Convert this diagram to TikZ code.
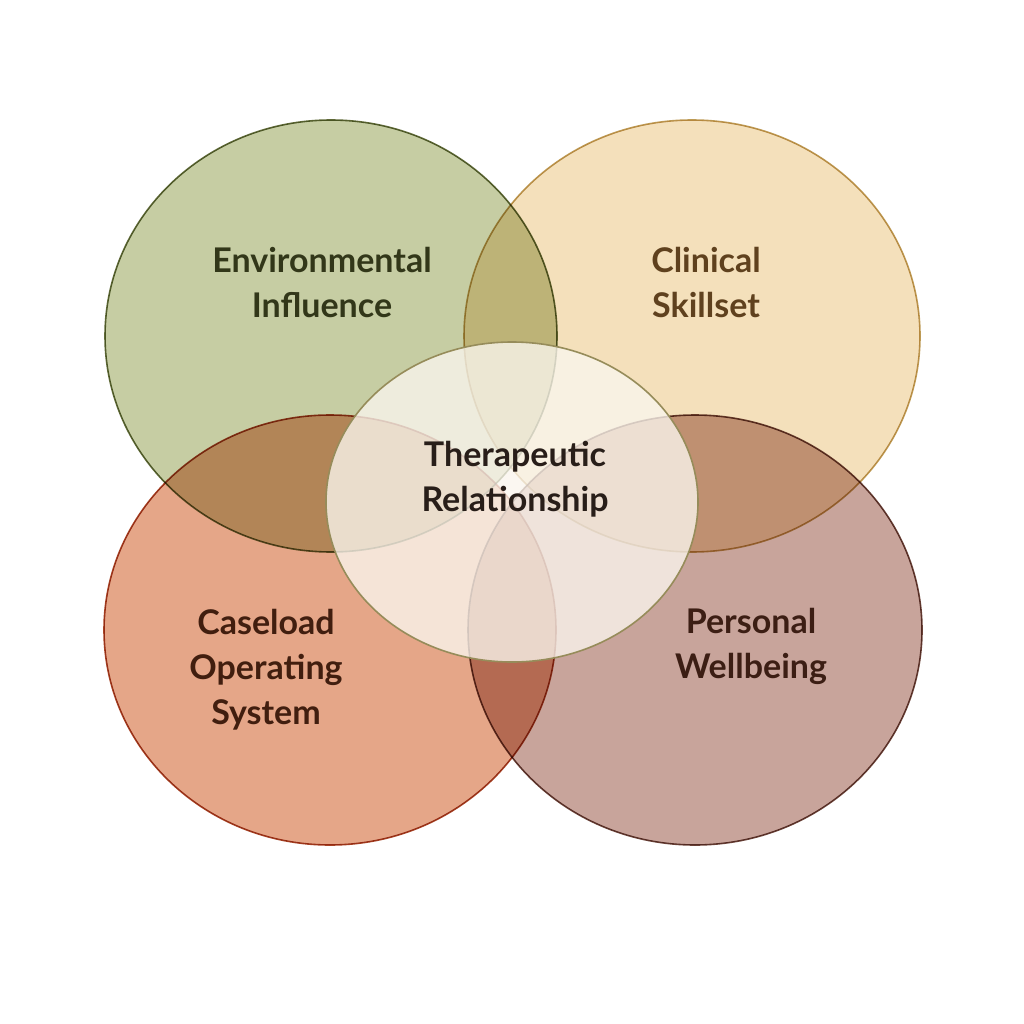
\documentclass[tikz,border=0pt]{standalone}
\usepackage{fontspec}
\setmainfont{Lato}
\definecolor{gF}{RGB}{172,182,120}\definecolor{gD}{RGB}{95,105,55}\definecolor{gT}{RGB}{50,55,25}
\definecolor{tF}{RGB}{240,210,155}\definecolor{tD}{RGB}{190,155,85}\definecolor{tT}{RGB}{95,65,30}
\definecolor{oF}{RGB}{218,125,80}\definecolor{oD}{RGB}{165,65,35}\definecolor{oT}{RGB}{65,30,15}
\definecolor{mF}{RGB}{175,122,108}\definecolor{mD}{RGB}{105,65,55}\definecolor{mT}{RGB}{60,30,20}
\definecolor{cF}{RGB}{250,246,238}\definecolor{cD}{RGB}{150,140,90}\definecolor{cT}{RGB}{40,30,25}
\tikzset{ring/.style={line width=1.6pt,fill opacity=0.68,draw opacity=1},
lbl/.style={font=\fontsize{34}{45}\selectfont\bfseries,align=center}}
\begin{document}
\begin{tikzpicture}[x=1pt,y=-1pt]
\useasboundingbox[fill=white] (0,0) rectangle (1024,1024);
\begin{scope}[blend mode=multiply]
\draw[ring,fill=gF,draw=gD] (331,336) ellipse [x radius=226,y radius=216];
\draw[ring,fill=tF,draw=tD] (692,336) ellipse [x radius=228,y radius=216];
\draw[ring,fill=oF,draw=oD] (330,630) ellipse [x radius=226,y radius=215];
\draw[ring,fill=mF,draw=mD] (695,630) ellipse [x radius=227,y radius=215];
\end{scope}
\draw[line width=1.6pt,fill=cF,fill opacity=0.78,draw=cD] (512,502) ellipse [x radius=186,y radius=160];
\node[lbl,text=gT] (env) at (322,283) {Environmental\\Influence};
\node[lbl,text=tT] (cli) at (706,283) {Clinical\\Skillset};
\node[lbl,text=oT] (cas) at (266,670) {Caseload\\Operating\\System};
\node[lbl,text=mT] (per) at (751,646) {Personal\\Wellbeing};
\node[lbl,text=cT] (the) at (515,479) {Therapeutic\\Relationship};
\end{tikzpicture}
\end{document}
